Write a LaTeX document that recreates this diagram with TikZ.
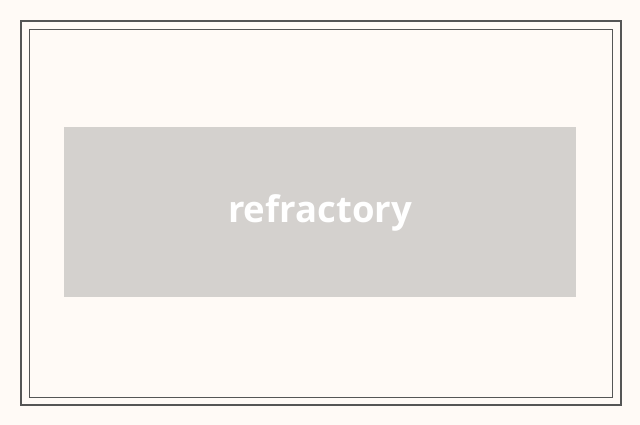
\documentclass[tikz,border=0pt]{standalone}
\usepackage{fontspec}
\setmainfont{Open Sans}
\definecolor{bg}{HTML}{FFFAF6}
\definecolor{frm}{HTML}{555555}
\definecolor{boxc}{HTML}{D4D1CE}
\tikzset{lbl/.style={fill=boxc,minimum width=512pt,minimum height=170pt,inner sep=0pt,text=white,font=\bfseries\fontsize{36.5}{42}\selectfont}}
\begin{document}
\begin{tikzpicture}[x=1pt,y=-1pt]
\fill[bg] (0,0) rectangle (640,425);
\useasboundingbox (0,0) rectangle (640,425);
\draw[frm,line width=1.5pt] (21,21) rectangle (621,405);
\draw[frm,line width=0.7pt] (29,29) rectangle (612,397);
\node[lbl] (b) at (320,212) {};
\node[text=white,font=\bfseries\fontsize{36.5}{42}\selectfont,inner sep=0pt] (t) at (320,213) {refractory};
\end{tikzpicture}
\end{document}
